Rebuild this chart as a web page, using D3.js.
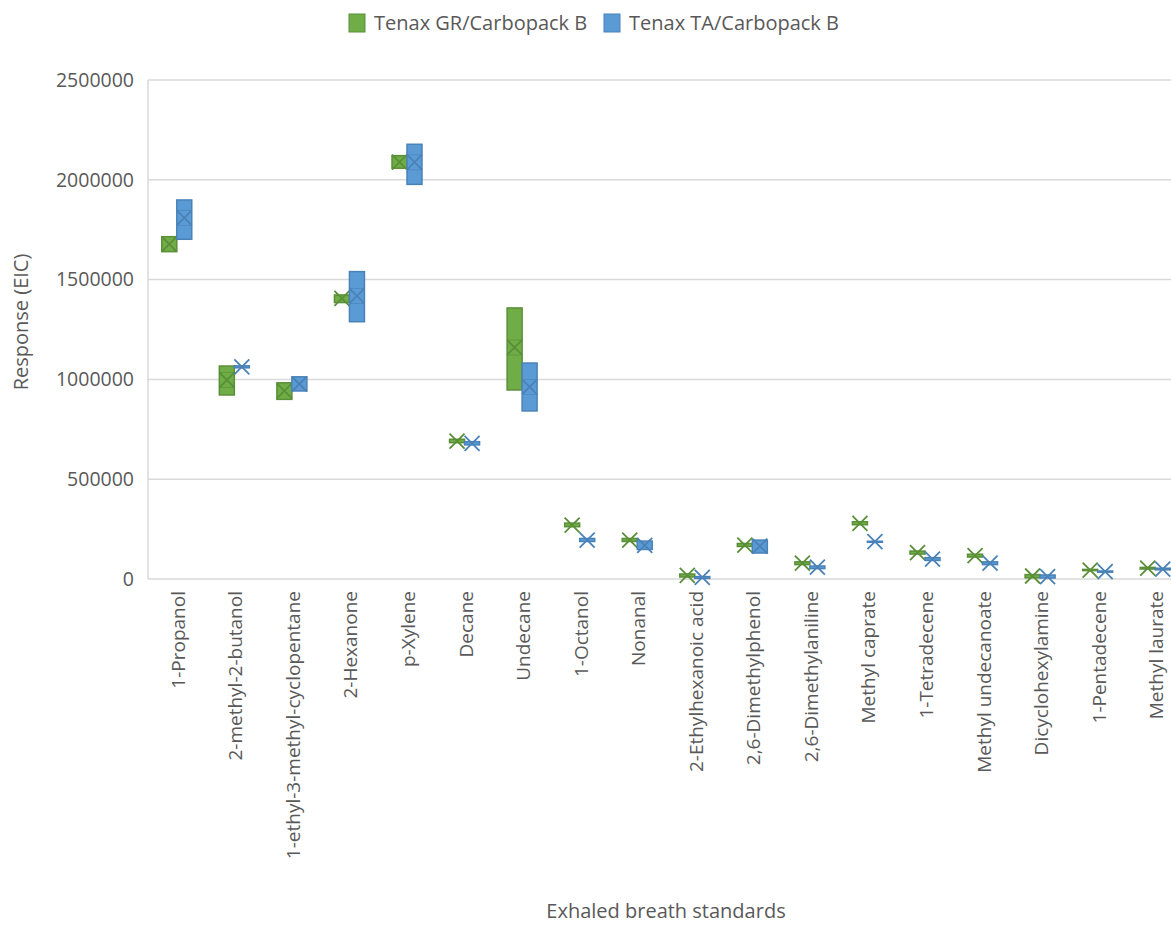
<!DOCTYPE html>
<html>
<head>
<meta charset="utf-8">
<script src="https://cdn.jsdelivr.net/npm/d3@7"></script>
<style>
  body { margin: 0; background: #fff; }
  svg { display: block; font-family: "Open Sans", "Noto Sans", sans-serif; }
</style>
</head>
<body>
<svg id="chart" width="1171" height="925"></svg>
<script>
// Exhaled breath standards measured on two sorbent tubes
const categories = [
  "1-Propanol", "2-methyl-2-butanol", "1-ethyl-3-methyl-cyclopentane", "2-Hexanone",
  "p-Xylene", "Decane", "Undecane", "1-Octanol", "Nonanal", "2-Ethylhexanoic acid",
  "2,6-Dimethylphenol", "2,6-Dimethylaniline", "Methyl caprate", "1-Tetradecene",
  "Methyl undecanoate", "Dicyclohexylamine", "1-Pentadecene", "Methyl laurate"
];

// Tenax GR/Carbopack B: lower quartile, upper quartile, mean
const grQ1   = [1640000, 922000, 900000, 1385000, 2058000, 683000, 947000, 262000, 188000, 10000, 163000, 72000, 272000, 125000, 110000, 6000, 42000, 50000];
const grQ3   = [1715000, 1067000, 983000, 1423000, 2121000, 700000, 1358000, 280000, 203000, 25000, 178000, 86000, 287000, 140000, 124000, 22000, 48000, 58000];
const grMean = [1678000, 997000, 942000, 1406000, 2089000, 691000, 1160000, 270000, 195000, 18000, 170000, 79000, 279000, 132000, 117000, 15000, 45000, 54000];

// Tenax TA/Carbopack B: lower quartile, upper quartile, mean
const taQ1   = [1702000, 1058000, 942000, 1289000, 1977000, 672000, 842000, 188000, 148000, 3000, 130000, 52000, 185000, 93000, 72000, 5000, 34000, 46000];
const taQ3   = [1899000, 1068000, 1013000, 1540000, 2178000, 688000, 1082000, 203000, 190000, 12000, 195000, 65000, 189000, 107000, 86000, 20000, 40000, 54000];
const taMean = [1809000, 1063000, 977000, 1418000, 2088000, 680000, 962000, 195000, 168000, 8000, 165000, 59000, 187000, 100000, 79000, 12000, 37000, 50000];

const yTicks = [0, 500000, 1000000, 1500000, 2000000, 2500000];

const seriesNames = ["Tenax GR/Carbopack B", "Tenax TA/Carbopack B"];
const seriesFill = ["#70AD47", "#5B9BD5"];
const seriesStroke = ["#5A8F38", "#4A82B8"];

const series = [
  categories.map((c, i) => ({ cat: c, q1: grQ1[i], q3: grQ3[i], mean: grMean[i] })),
  categories.map((c, i) => ({ cat: c, q1: taQ1[i], q3: taQ3[i], mean: taMean[i] }))
];

const svg = d3.select("#chart");
const plot = { left: 148, right: 1184, top: 80, bottom: 579 };
const textColor = "#595959";
const gridColor = "#D9D9D9";

const x = d3.scaleBand().domain(categories).range([plot.left, plot.right]);
const sub = d3.scaleBand().domain([0, 1]).range([-15, 15]);
const y = d3.scaleLinear().domain([0, 2500000]).range([plot.bottom, plot.top]);

// gridlines
svg.append("g")
  .selectAll("line")
  .data(yTicks)
  .join("line")
  .attr("x1", plot.left).attr("x2", plot.right)
  .attr("y1", d => y(d)).attr("y2", d => y(d))
  .attr("stroke", gridColor).attr("stroke-width", 1.5);

// vertical axis line
svg.append("line")
  .attr("x1", plot.left).attr("x2", plot.left)
  .attr("y1", plot.top).attr("y2", plot.bottom)
  .attr("stroke", gridColor).attr("stroke-width", 1.5);

// y axis labels
const yAxis = d3.axisLeft(y).tickValues(yTicks).tickSize(0).tickPadding(14).tickFormat(d3.format("d"));
const yg = svg.append("g").attr("transform", `translate(${plot.left},0)`).call(yAxis);
yg.select(".domain").remove();
yg.selectAll("text").attr("fill", textColor).attr("font-size", 19.5).attr("font-family", "\"Open Sans\", sans-serif");

// x axis labels (rotated)
svg.append("g")
  .selectAll("text")
  .data(categories)
  .join("text")
  .attr("transform", d => `translate(${x(d) + x.bandwidth() / 2 + 8},591) rotate(-90)`)
  .attr("text-anchor", "end")
  .attr("fill", textColor)
  .attr("font-size", 19)
  .text(d => d);

// axis titles
svg.append("text")
  .attr("transform", "translate(28,322) rotate(-90)")
  .attr("text-anchor", "middle")
  .attr("fill", textColor)
  .attr("font-size", 20)
  .text("Response (EIC)");

svg.append("text")
  .attr("x", 666).attr("y", 918)
  .attr("text-anchor", "middle")
  .attr("fill", textColor)
  .attr("font-size", 20)
  .text("Exhaled breath standards");

// boxes and mean markers
const half = 7.5;
series.forEach((data, s) => {
  const g = svg.append("g");
  data.forEach(d => {
    const x0 = x(d.cat) + x.bandwidth() / 2 + sub(s);
    const w = sub.bandwidth();
    const yTop = y(d.q3), yBot = y(d.q1);
    const cx = x0 + w / 2, cy = y(d.mean);
    g.append("rect")
      .attr("x", x0).attr("y", yTop)
      .attr("width", w).attr("height", Math.max(yBot - yTop, 1))
      .attr("fill", seriesFill[s])
      .attr("stroke", seriesStroke[s]).attr("stroke-width", 1.5);
    // inner guide lines at the marker ends, only inside the box
    [cy - half, cy + half].forEach(ly => {
      if (ly > yTop + 1 && ly < yBot - 1) {
        g.append("line")
          .attr("x1", x0).attr("x2", x0 + w)
          .attr("y1", ly).attr("y2", ly)
          .attr("stroke", seriesStroke[s]).attr("stroke-width", 1).attr("opacity", 0.6);
      }
    });
    g.append("path")
      .attr("d", `M${cx - half},${cy - half}L${cx + half},${cy + half}M${cx - half},${cy + half}L${cx + half},${cy - half}`)
      .attr("stroke", seriesStroke[s]).attr("stroke-width", 1.8).attr("fill", "none");
  });
});

// legend
const legend = svg.append("g");
const legendX = [349, 604];
seriesNames.forEach((name, s) => {
  legend.append("rect")
    .attr("x", legendX[s]).attr("y", 14)
    .attr("width", 16).attr("height", 18)
    .attr("fill", seriesFill[s]).attr("stroke", seriesStroke[s]).attr("stroke-width", 1);
  legend.append("text")
    .attr("x", legendX[s] + 25).attr("y", 30)
    .attr("fill", textColor).attr("font-size", 20)
    .text(name);
});
</script>
</body>
</html>
